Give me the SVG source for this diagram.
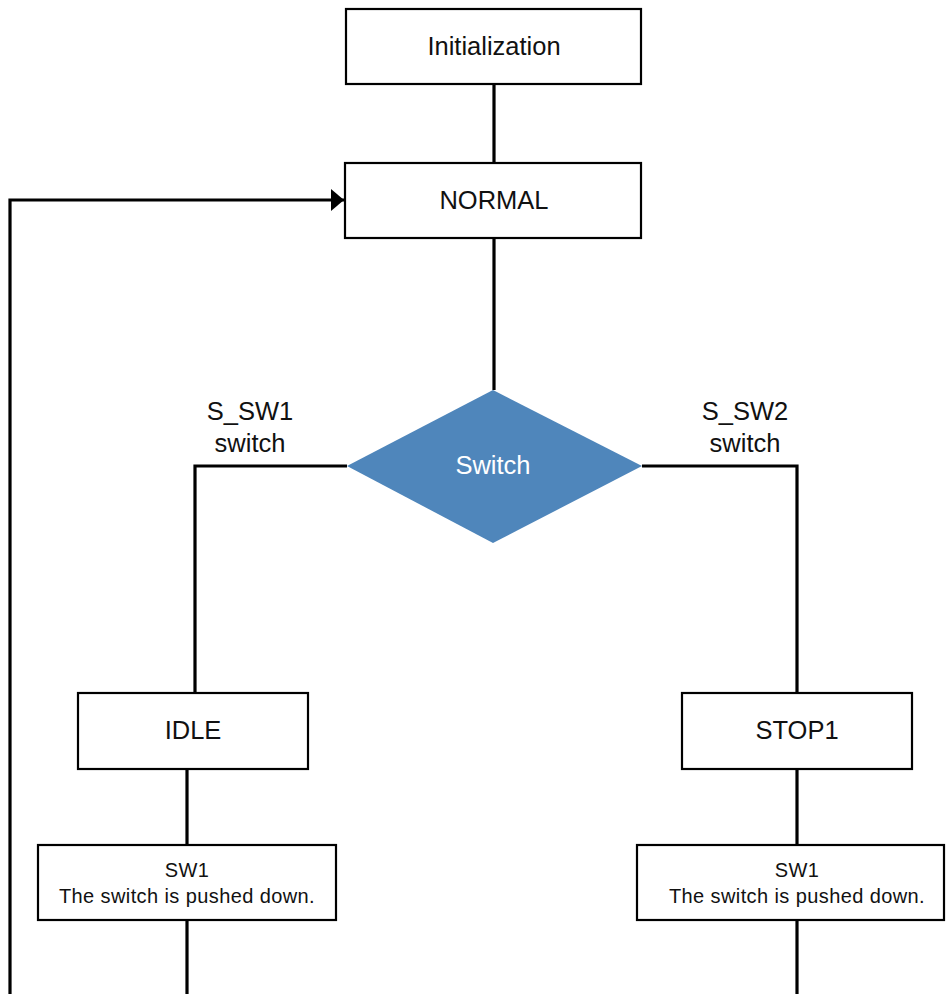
<svg xmlns="http://www.w3.org/2000/svg" width="946" height="994" viewBox="0 0 946 994">
<defs>
<style>
.box{fill:#ffffff;stroke:#000000;stroke-width:2.2}
.ln{fill:none;stroke:#000000;stroke-width:3.2}
.t{font-family:"Liberation Sans",Arial,sans-serif;font-size:25.5px;fill:#111111;text-anchor:middle}
.s{font-family:"Liberation Sans",Arial,sans-serif;font-size:20px;fill:#111111;text-anchor:middle;letter-spacing:0.4px}
</style>
<marker id="arr" markerWidth="14" markerHeight="22" refX="13" refY="11" orient="auto" markerUnits="userSpaceOnUse">
<path d="M0,0 L13,11 L0,22 Z" fill="#000000"/>
</marker>
</defs>
<rect width="946" height="994" fill="#ffffff"/>
<g id="connectors">
<line class="ln" x1="494" y1="84" x2="494" y2="163"/>
<line class="ln" x1="494" y1="238" x2="494" y2="390"/>
<polyline class="ln" points="347,466 195,466 195,694"/>
<polyline class="ln" points="642,466 797,466 797,694"/>
<line class="ln" x1="187" y1="769" x2="187" y2="845"/>
<line class="ln" x1="187" y1="920" x2="187" y2="994"/>
<line class="ln" x1="797" y1="769" x2="797" y2="845"/>
<line class="ln" x1="797" y1="920" x2="797" y2="994"/>
<polyline class="ln" points="10,994 10,200 344,200" marker-end="url(#arr)"/>
<text class="t" x="250" y="420">S_SW1</text>
<text class="t" x="250" y="452">switch</text>
<text class="t" x="745" y="420">S_SW2</text>
<text class="t" x="745" y="452">switch</text>
</g>
<g id="init">
<rect class="box" x="346" y="9" width="295" height="75"/>
<text class="t" x="494" y="55">Initialization</text>
</g>
<g id="normal">
<rect class="box" x="345" y="163" width="296" height="75"/>
<text class="t" x="494" y="209">NORMAL</text>
</g>
<g id="switch">
<polygon points="493,390 642,466 493,543 347,466" fill="#4f86bb"/>
<text class="t" x="493" y="474" style="fill:#ffffff">Switch</text>
</g>
<g id="idle">
<rect class="box" x="78" y="693" width="230" height="76"/>
<text class="t" x="193" y="739">IDLE</text>
</g>
<g id="stop1">
<rect class="box" x="682" y="693" width="230" height="76"/>
<text class="t" x="797" y="739">STOP1</text>
</g>
<g id="sw1-left">
<rect class="box" x="38" y="845" width="298" height="75"/>
<text class="s" x="187" y="877">SW1</text>
<text class="s" x="187" y="903">The switch is pushed down.</text>
</g>
<g id="sw1-right">
<rect class="box" x="637" y="845" width="307" height="75"/>
<text class="s" x="797" y="877">SW1</text>
<text class="s" x="797" y="903">The switch is pushed down.</text>
</g>
</svg>
